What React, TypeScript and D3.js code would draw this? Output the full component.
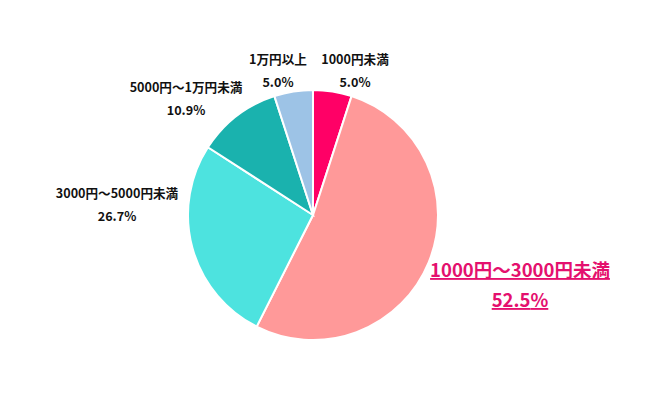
import React from "react";
import * as d3 from "d3";

const categories = ["1000円未満", "1000円〜3000円未満", "3000円〜5000円未満", "5000円〜1万円未満", "1万円以上"];
const values = [5.0, 52.5, 26.7, 10.9, 5.0];
const colors = ["#ff0066", "#ff9999", "#4de3df", "#1ab2ae", "#9dc3e6"];
// label anchor centres (label line, value line)
const labelPos: [number, number][] = [
  [355, 64],
  [520, 277],
  [117, 198],
  [186, 92],
  [278, 64],
];

const W = 650;
const H = 393;
const cx = 313;
const cy = 215;
const radius = 125;

export default function App() {
  const pie = d3.pie<number>().sort(null).value((d) => d);
  const arcs = pie(values);
  const arc = d3.arc<d3.PieArcDatum<number>>().innerRadius(0).outerRadius(radius);
  const font = "'Noto Sans CJK JP', 'Noto Sans', sans-serif";

  return (
    <svg width={W} height={H} style={{ position: "absolute", left: 0, top: 0 }}>
      <rect width={W} height={H} fill="#fff" />
      <g transform={`translate(${cx},${cy})`}>
        {arcs.map((a, i) => (
          <path key={i} d={arc(a) || ""} fill={colors[i]} stroke="#fff" strokeWidth={2} />
        ))}
      </g>
      {categories.map((c, i) => {
        const [x, y] = labelPos[i];
        const big = i === 1;
        const fill = big ? "#e4106e" : "#111";
        const fs = big ? 18.5 : 12.6;
        const gap = big ? 30 : 22.5;
        return (
          <g key={c} fontFamily={font} fontWeight="bold" fill={fill} textAnchor="middle" fontSize={fs}>
            <text x={x} y={y} textDecoration={big ? "underline" : undefined}>{c}</text>
            <text x={x} y={y + gap} textDecoration={big ? "underline" : undefined}>
              {values[i].toFixed(1)}%
            </text>
          </g>
        );
      })}
    </svg>
  );
}
